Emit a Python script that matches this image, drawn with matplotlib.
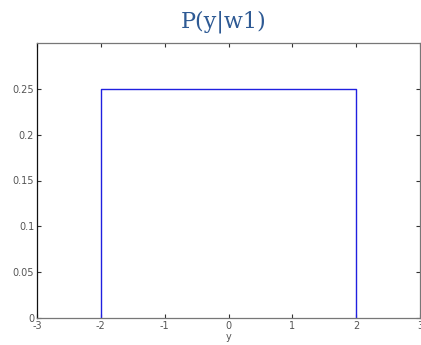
import numpy as np
import matplotlib
matplotlib.use('Agg')
import matplotlib.pyplot as plt

# uniform density on [-2, 2]
y_vals = [-2, -2, 2, 2]
p_vals = [0, 0.25, 0.25, 0]

x_ticks = [-3, -2, -1, 0, 1, 2, 3]
y_ticks = [0, 0.05, 0.1, 0.15, 0.2, 0.25]
y_ticklabels = ['0', '0.05', '0.1', '0.15', '0.2', '0.25']

fig = plt.figure(figsize=(4.21, 3.45), dpi=100)
ax = fig.add_axes([37/421, 27/345, 383/421, 275/345])

ax.plot(y_vals, p_vals, color='#2020e0', linewidth=1.0)

ax.set_xlim(-3, 3)
ax.set_ylim(0, 0.3)
ax.set_xticks(x_ticks)
ax.set_xticklabels([str(t) for t in x_ticks])
ax.set_yticks(y_ticks)
ax.set_yticklabels(y_ticklabels)
ax.tick_params(direction='in', length=3, width=0.8, top=True, right=True,
               labelsize=7, labelcolor='#555555', color='#333333', pad=2)
for s in ax.spines.values():
    s.set_color('#777777')
    s.set_linewidth(0.9)
ax.spines['left'].set_color('#111111')

ax.set_xlabel('y', fontsize=7, color='#555555', labelpad=1)

fig.text(224/421, 1 - 22/345, 'P(y|w1)', ha='center', va='center',
         fontsize=16, family='DejaVu Serif', color='#2E5A94')

fig.savefig('out.png', dpi=100)
